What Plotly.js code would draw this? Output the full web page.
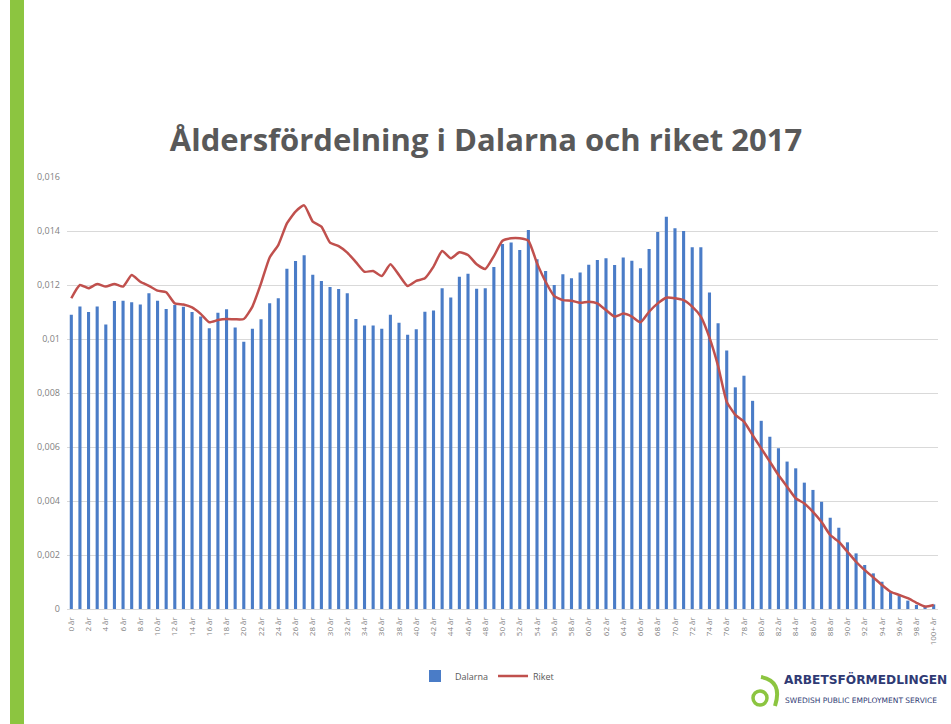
<!DOCTYPE html>
<html>
<head>
<meta charset="utf-8">
<script src="https://cdn.plot.ly/plotly-3.0.1.min.js"></script>
<style>
  html, body { margin: 0; padding: 0; background: #ffffff; }
  #chart { width: 951px; height: 724px; }
</style>
</head>
<body>
<div id="chart"></div>
<script>
// ---- data ----
const ageLabels = [];
for (let i = 0; i < 100; i++) ageLabels.push(i + " år");
ageLabels.push("100+ år");

const dalarna = [
  0.0109, 0.0112, 0.0110, 0.0112, 0.01054, 0.01141, 0.01142, 0.01136, 0.01128, 0.01169,
  0.01142, 0.01111, 0.01126, 0.01119, 0.0110, 0.01083, 0.0104, 0.01097, 0.0111, 0.01043,
  0.0099, 0.01038, 0.01073, 0.01132, 0.01151, 0.0126, 0.01289, 0.0131, 0.01238, 0.01215,
  0.01193, 0.01185, 0.01169, 0.01074, 0.0105, 0.0105, 0.01038, 0.0109, 0.0106, 0.01016,
  0.01036, 0.01101, 0.01106, 0.01188, 0.01154, 0.01231, 0.01242, 0.01186, 0.01188, 0.01267,
  0.01352, 0.01357, 0.0133, 0.01404, 0.01295, 0.01252, 0.012, 0.0124, 0.01225, 0.01246,
  0.01275, 0.01293, 0.01299, 0.01274, 0.01302, 0.0129, 0.01262, 0.01333, 0.01396, 0.01453,
  0.0141, 0.014, 0.0134, 0.0134, 0.01172, 0.01058, 0.00957, 0.00821, 0.00864, 0.00771,
  0.00697, 0.00638, 0.00595, 0.00546, 0.00521, 0.00468, 0.00441, 0.00397, 0.00338, 0.00301,
  0.00247, 0.00206, 0.00163, 0.00132, 0.00101, 0.00064, 0.00048, 0.00031, 0.00015, 0.00009,
  0.00017
];

const riket = [
  0.01151, 0.0120, 0.01188, 0.01204, 0.01194, 0.01204, 0.01194, 0.01237, 0.01212, 0.01197,
  0.01179, 0.01173, 0.01132, 0.01128, 0.01117, 0.01093, 0.01062, 0.0107, 0.01074, 0.01073,
  0.01074, 0.0112, 0.01206, 0.01302, 0.01348, 0.01428, 0.01472, 0.01495, 0.01435, 0.01416,
  0.01357, 0.01344, 0.0132, 0.01285, 0.01249, 0.01252, 0.01233, 0.01277, 0.01237, 0.01196,
  0.01215, 0.01225, 0.01268, 0.01326, 0.01299, 0.01321, 0.01311, 0.01277, 0.01259, 0.01307,
  0.01364, 0.01373, 0.01373, 0.01364, 0.01281, 0.01212, 0.01159, 0.01144, 0.01142, 0.01134,
  0.01138, 0.01132, 0.01107, 0.01083, 0.01094, 0.01083, 0.01062, 0.01101, 0.01132, 0.01153,
  0.01151, 0.01144, 0.0112, 0.01083, 0.01005, 0.009, 0.00768, 0.00719, 0.00694, 0.00644,
  0.00595, 0.00546, 0.00496, 0.00453, 0.0041, 0.00391, 0.0036, 0.00322, 0.00274, 0.00249,
  0.00212, 0.00175, 0.00144, 0.00117, 0.00089, 0.00064, 0.00052, 0.0004, 0.00023, 0.00009,
  0.00015
];

const shownTicks = ageLabels.filter((_, i) => i % 2 === 0);

const titleText = "Åldersfördelning i Dalarna och riket 2017";
const seriesNames = ["Dalarna", "Riket"];
const logoTitle = "ARBETSFÖRMEDLINGEN";
const logoSub = "SWEDISH PUBLIC EMPLOYMENT SERVICE";

// ---- layout helpers (pixel -> paper) ----
const W = 951, H = 724;
const M = { l: 67, r: 13, t: 177, b: 115 };
const PW = W - M.l - M.r, PH = H - M.t - M.b;
const px = x => (x - M.l) / PW;
const py = y => (H - M.b - y) / PH;

const green = "#8cc540";

const traces = [
  {
    type: "bar",
    name: seriesNames[0],
    x: ageLabels,
    y: dalarna,
    marker: { color: "#4a7cc7" },
    hoverinfo: "skip"
  },
  {
    type: "scatter",
    mode: "lines",
    name: seriesNames[1],
    x: ageLabels,
    y: riket,
    line: { color: "#c0504d", width: 2.5, shape: "spline", smoothing: 0.5 },
    hoverinfo: "skip"
  }
];

const layout = {
  width: W, height: H,
  margin: M,
  paper_bgcolor: "#ffffff",
  plot_bgcolor: "#ffffff",
  separators: ", ",
  bargap: 0.64,
  showlegend: true,
  font: { family: "Open Sans, sans-serif", color: "#595959" },
  title: {
    text: titleText,
    font: { family: "Open Sans, sans-serif", size: 31, weight: "bold", color: "#595959" },
    xref: "container", x: 486 / W, xanchor: "center",
    yref: "container", y: 1 - 140 / H, yanchor: "middle"
  },
  xaxis: {
    type: "category",
    tickmode: "array",
    tickvals: shownTicks,
    ticktext: shownTicks,
    tickangle: -90,
    tickfont: { size: 8, color: "#7f7f7f" },
    ticklabelstandoff: 4,
    showgrid: false,
    showline: true,
    linecolor: "#d9d9d9",
    linewidth: 1,
    ticks: "",
    fixedrange: true
  },
  yaxis: {
    range: [0, 0.016],
    dtick: 0.002,
    tick0: 0,
    showgrid: true,
    gridcolor: "#d9d9d9",
    gridwidth: 1,
    zeroline: false,
    showline: false,
    ticks: "",
    tickfont: { size: 9, color: "#7f7f7f" },
    ticklabelstandoff: 6,
    fixedrange: true
  },
  legend: {
    orientation: "h",
    x: px(487), xanchor: "center",
    y: py(676), yanchor: "middle",
    font: { size: 9, color: "#595959" },
    itemwidth: 30,
    bgcolor: "rgba(0,0,0,0)"
  },
  shapes: [
    // left green stripe
    { type: "rect", xref: "paper", yref: "paper",
      x0: px(10), x1: px(24), y0: py(H + 2), y1: py(-2),
      fillcolor: green, line: { width: 0 }, layer: "above" },
    // logo ring
    { type: "circle", xref: "paper", yref: "paper",
      x0: px(753), x1: px(767), y0: py(705), y1: py(691),
      line: { color: green, width: 3.5 }, fillcolor: "rgba(0,0,0,0)" },
    // logo arc
    { type: "path", xref: "paper", yref: "paper",
      path: `M ${px(761)} ${py(677)} Q ${px(783)} ${py(681)} ${px(775)} ${py(706)}`,
      line: { color: green, width: 4 } }
  ],
  annotations: [
    { text: "<b>" + logoTitle + "</b>", xref: "paper", yref: "paper",
      x: px(782), y: py(679), xanchor: "left", yanchor: "middle", showarrow: false,
      font: { family: "DejaVu Sans, sans-serif", size: 12.2, color: "#2f3a74" } },
    { text: logoSub, xref: "paper", yref: "paper",
      x: px(783), y: py(700), xanchor: "left", yanchor: "middle", showarrow: false,
      font: { family: "DejaVu Sans, sans-serif", size: 7.5, color: "#2f3a74" } }
  ]
};

Plotly.newPlot("chart", traces, layout, { displayModeBar: false, staticPlot: true });
</script>
</body>
</html>
